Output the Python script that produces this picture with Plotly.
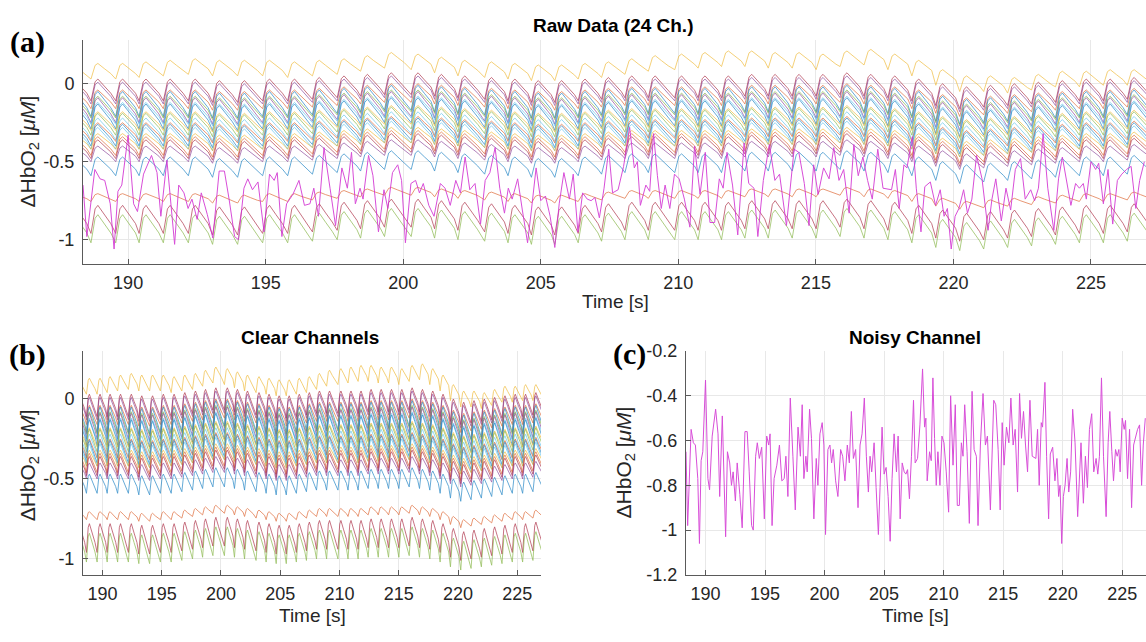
import plotly.graph_objects as go

# ---------------- data ----------------
# Cardiac beat peak times [s] (shared by the clear channels)
beat_times = [187.98, 188.85, 189.75, 190.60, 191.48, 192.39, 193.27, 194.18, 195.09, 196.00,
              196.90, 197.80, 198.65, 199.52, 200.49, 201.34, 202.19, 203.16, 204.01, 204.86,
              205.71, 206.56, 207.41, 208.26, 209.11, 210.07, 210.92, 211.77, 212.62, 213.47,
              214.34, 215.21, 216.08, 216.95, 217.82, 218.69, 219.56, 220.43, 221.30, 222.17,
              223.04, 223.91, 224.78, 225.65, 226.52]
# slow drift of the channel bundle at each beat
trend_main = [0.00, 0.00, 0.00, 0.00, 0.00, 0.00, -0.01, -0.01, 0.00, 0.00,
              0.01, 0.02, 0.03, 0.04, 0.04, 0.03, 0.02, 0.01, 0.00, -0.01,
              -0.01, 0.00, 0.01, 0.02, 0.02, 0.02, 0.02, 0.02, 0.03, 0.03,
              0.03, 0.03, 0.04, 0.03, 0.02, 0.00, -0.03, -0.05, -0.04, -0.03,
              -0.02, -0.01, 0.00, 0.00, 0.01]
# the top (yellow) channel level at each beat
trend_top = [0.07, 0.08, 0.08, 0.09, 0.10, 0.11, 0.10, 0.10, 0.10, 0.09,
             0.10, 0.11, 0.13, 0.15, 0.14, 0.12, 0.10, 0.09, 0.08, 0.07,
             0.07, 0.08, 0.09, 0.11, 0.13, 0.14, 0.15, 0.16, 0.16, 0.15,
             0.15, 0.14, 0.16, 0.17, 0.14, 0.10, 0.04, 0.00, 0.00, -0.01,
             0.01, 0.03, 0.03, 0.04, 0.04]
# one-beat pulse shape: time from peak [s] and relative level
pulse_phase = [-0.20, -0.05, 0.05, 0.28, 0.52]
pulse_level = [-1.0, 0.75, 1.0, 0.35, -0.30]

# 23 clear channels: mean level, half amplitude, colour
ch_offset = [0.0, -0.04, -0.06, -0.10, -0.13, -0.15, -0.17, -0.19, -0.21, -0.24, -0.26, -0.29,
             -0.31, -0.33, -0.35, -0.37, -0.40, -0.42, -0.45, -0.53, -0.73, -0.87, -0.93]
ch_amp = [0.05, 0.07, 0.07, 0.06, 0.08, 0.07, 0.08, 0.07, 0.08, 0.06, 0.07, 0.07,
          0.06, 0.07, 0.07, 0.05, 0.06, 0.06, 0.05, 0.06, 0.025, 0.09, 0.09]
ch_color = ["#EDB120", "#A2142F", "#7E2F8E", "#D95319", "#0072BD", "#77AC30", "#7E2F8E",
            "#4DBEEE", "#0072BD", "#EDB120", "#77AC30", "#4DBEEE", "#D95319", "#0072BD",
            "#4DBEEE", "#EDB120", "#D95319", "#A2142F", "#7E2F8E", "#0072BD", "#D95319",
            "#A2142F", "#77AC30"]
ch_uses_top = [True] + [False] * 22

# noisy channel
noisy_t = [188.36, 188.50, 188.79, 188.98, 189.15, 189.35, 189.49, 189.63, 189.77, 190.00,
           190.20, 190.34, 190.56, 190.85, 191.05, 191.19, 191.41, 191.69, 191.84, 192.03,
           192.18, 192.32, 192.51, 192.66, 192.88, 193.08, 193.31, 193.50, 193.67, 193.87,
           194.01, 194.21, 194.35, 194.52, 194.72, 194.94, 195.14, 195.31, 195.42, 195.59,
           195.76, 195.99, 196.21, 196.41, 196.61, 196.75, 196.92, 197.12, 197.34, 197.54,
           197.77, 197.97,
           198.12, 198.26, 198.43, 198.54, 198.74, 198.90, 199.10, 199.30, 199.44, 199.61,
           199.80, 199.94, 200.08, 200.28, 200.45, 200.59, 200.73, 200.93, 201.12, 201.35,
           201.52, 201.71, 201.91, 202.08, 202.25, 202.42, 202.61, 202.81, 202.98, 203.15,
           203.34, 203.51, 203.68, 203.82, 203.96, 204.16, 204.33, 204.52, 204.66, 204.83,
           205.00, 205.17, 205.34, 205.51, 205.67, 205.84, 206.04, 206.18, 206.35, 206.52,
           206.69, 206.83, 206.97, 207.13, 207.30, 207.47, 207.61, 207.81, 208.01,
           208.23, 208.40, 208.51, 208.62, 208.82, 208.96, 209.10, 209.24, 209.38, 209.52,
           209.69, 209.86, 210.03, 210.22, 210.42, 210.59, 210.79, 210.98, 211.15, 211.32,
           211.49, 211.63, 211.77, 211.97, 212.16, 212.39, 212.56, 212.75, 212.89, 213.09,
           213.31, 213.51, 213.68, 213.93, 214.21, 214.38, 214.58, 214.75, 214.92, 215.08,
           215.28, 215.48, 215.65, 215.84, 216.01, 216.21, 216.38, 216.54, 216.71, 216.88,
           217.05, 217.25, 217.44,
           217.75, 217.89, 218.03, 218.20, 218.31, 218.51, 218.65, 218.82, 218.96, 219.16,
           219.35, 219.52, 219.66, 219.78, 219.92, 220.06, 220.20, 220.37, 220.51, 220.67,
           220.84, 221.04, 221.26, 221.40, 221.54, 221.74, 221.91, 222.08, 222.25, 222.44,
           222.61, 222.81, 222.95, 223.09, 223.26, 223.43, 223.65, 223.82, 223.96, 224.13,
           224.27, 224.44, 224.58, 224.72, 224.83, 225.00, 225.17, 225.28, 225.45, 225.62,
           225.79, 225.96, 226.12, 226.29, 226.46, 226.63, 226.77, 226.94]
noisy_v = [-0.65, -0.98, -0.55, -0.61, -0.62, -0.77, -1.06, -0.69, -0.65, -0.33,
           -0.77, -0.82, -0.58, -0.46, -0.57, -0.85, -0.49, -1.03, -0.65, -0.70,
           -0.80, -0.74, -0.87, -0.70, -0.84, -0.99, -0.56, -0.56, -0.74, -0.98,
           -1.00, -0.67, -0.61, -0.68, -0.63, -0.95, -0.58, -0.62, -0.57, -0.98,
           -0.77, -0.71, -0.62, -0.78, -0.77, -0.67, -0.85, -0.41, -0.67, -0.91,
           -0.54, -0.67,
           -0.44, -0.77, -0.67, -0.74, -0.46, -0.59, -0.95, -0.68, -0.80, -0.57,
           -0.52, -0.62, -1.02, -0.64, -0.62, -0.70, -0.64, -0.78, -0.85, -0.64,
           -0.67, -0.78, -0.62, -0.70, -0.47, -0.68, -0.64, -0.90, -0.62, -0.57,
           -0.41, -0.67, -0.83, -0.67, -0.74, -0.61, -0.81, -1.02, -0.81, -0.54,
           -0.75, -0.72, -0.85, -1.05, -0.77, -0.57, -0.74, -0.58, -0.95, -0.70,
           -0.74, -0.75, -0.73, -0.86, -0.67, -0.42, -0.70, -0.68, -0.53,
           -0.28, -0.54, -0.50, -0.78, -0.65, -0.69, -0.32, -0.59, -0.80, -0.65,
           -0.80, -0.58, -0.61, -0.74, -0.92, -0.40, -0.71, -0.44, -0.89, -0.89,
           -0.61, -0.67, -0.44, -0.65, -0.97, -0.38, -0.64, -0.67, -0.98, -0.62,
           -0.39, -0.62, -0.58, -0.91, -0.42, -0.44, -0.64, -0.91, -0.52, -0.71,
           -0.54, -0.61, -0.41, -0.62, -0.55, -0.83, -0.39, -0.59, -0.47, -0.62,
           -0.74, -0.42, -0.67,
           -0.68, -0.55, -0.80, -0.52, -0.54, -0.34, -0.67, -0.95, -0.66, -0.63,
           -0.78, -0.68, -0.85, -0.80, -1.06, -0.85, -0.80, -0.68, -0.83, -0.74,
           -0.46, -0.61, -0.94, -0.74, -0.61, -0.88, -0.67, -0.81, -0.55, -0.48,
           -0.74, -0.68, -0.75, -0.67, -0.32, -0.67, -0.94, -0.61, -0.47, -0.65,
           -0.78, -0.64, -0.67, -0.64, -0.74, -0.50, -0.55, -0.51, -0.77, -0.55,
           -0.90, -0.62, -0.58, -0.55, -0.53, -0.80, -0.62, -0.50]

x_ticks = [190, 195, 200, 205, 210, 215, 220, 225]
y_ticks_ab = [-1, -0.5, 0]
y_ticktext_ab = ["-1", "-0.5", "0"]
y_ticks_c = [-1.2, -1.0, -0.8, -0.6, -0.4, -0.2]
y_ticktext_c = ["-1.2", "-1", "-0.8", "-0.6", "-0.4", "-0.2"]


def channel_series(i):
    xs, ys = [], []
    for k, tp in enumerate(beat_times):
        base = trend_top[k] if ch_uses_top[i] else ch_offset[i] + trend_main[k]
        for ph, lv in zip(pulse_phase, pulse_level):
            xs.append(tp + ph)
            ys.append(base + ch_amp[i] * lv)
    return xs, ys


fig = go.Figure()
for xa, ya in (("x", "y"), ("x2", "y2")):
    for i in range(len(ch_offset)):
        xs, ys = channel_series(i)
        fig.add_trace(go.Scatter(x=xs, y=ys, mode="lines", xaxis=xa, yaxis=ya,
                                 line=dict(color=ch_color[i], width=0.8), opacity=0.75,
                                 showlegend=False, hoverinfo="skip"))
    if xa == "x":
        fig.add_trace(go.Scatter(x=noisy_t, y=noisy_v, mode="lines", xaxis=xa, yaxis=ya,
                                 line=dict(color="#D22FD2", width=1.0), opacity=0.85,
                                 showlegend=False, hoverinfo="skip"))
fig.add_trace(go.Scatter(x=noisy_t, y=noisy_v, mode="lines", xaxis="x3", yaxis="y3",
                         line=dict(color="#D22FD2", width=1.0), opacity=0.85,
                         showlegend=False, hoverinfo="skip"))

W, H = 1146, 642
tickfont = dict(family="Liberation Sans, Arial", size=18, color="#262626")


def xax(d0, d1, anchor):
    return dict(domain=[d0 / W, d1 / W], range=[188.36, 227.0], tickvals=x_ticks,
                ticktext=[str(v) for v in x_ticks], anchor=anchor,
                showgrid=True, gridcolor="#E8E8E8", gridwidth=1, zeroline=False,
                showline=True, linecolor="#5A5A5A", linewidth=1,
                ticks="inside", ticklen=5, tickcolor="#5A5A5A",
                tickfont=tickfont, ticklabelstandoff=3)


def yax(top, bottom, rng, tv, tt, anchor):
    return dict(domain=[1 - bottom / H, 1 - top / H], range=rng, tickvals=tv, ticktext=tt,
                anchor=anchor, showgrid=True, gridcolor="#E8E8E8", gridwidth=1,
                zeroline=False, showline=True, linecolor="#5A5A5A", linewidth=1,
                ticks="inside", ticklen=5, tickcolor="#5A5A5A",
                tickfont=tickfont, ticklabelstandoff=4)


fig.update_layout(
    width=W, height=H, margin=dict(l=0, r=0, t=0, b=0),
    paper_bgcolor="white", plot_bgcolor="white", showlegend=False,
    xaxis=xax(83, 1146, "y"),
    yaxis=yax(31, 262, [-1.155, 0.28], y_ticks_ab, y_ticktext_ab, "x"),
    xaxis2=xax(83, 541, "y2"),
    yaxis2=yax(352, 583, [-1.10, 0.30], y_ticks_ab, y_ticktext_ab, "x2"),
    xaxis3=xax(686, 1146, "y3"),
    yaxis3=yax(352, 583, [-1.2, -0.2], y_ticks_c, y_ticktext_c, "x3"),
)

anns = []


def ann(text, x, y, size, family="Liberation Sans, Arial", angle=0, color="#262626"):
    anns.append(dict(text=text, x=x / W, y=1 - y / H, xref="paper", yref="paper",
                     showarrow=False, xanchor="center", yanchor="middle", textangle=angle,
                     font=dict(family=family, size=size, color=color)))


ylab = "ΔHbO<sub>2</sub> [<i>μM</i>]"
ann("<b>Raw Data (24 Ch.)</b>", 613, 16, 19, color="#000000")
ann("<b>Clear Channels</b>", 310, 338, 19, color="#000000")
ann("<b>Noisy Channel</b>", 915, 338, 19, color="#000000")
ann("Time [s]", 615, 301, 19)
ann("Time [s]", 312, 625, 19)
ann("Time [s]", 915, 625, 19)
ann(ylab, 29, 146, 21, angle=-90)
ann(ylab, 29, 470, 21, angle=-90)
ann(ylab, 625, 467, 21, angle=-90)
ann("<b>(a)</b>", 27, 33, 30, family="Liberation Serif, Times New Roman", color="#000000")
ann("<b>(b)</b>", 27, 356, 30, family="Liberation Serif, Times New Roman", color="#000000")
ann("<b>(c)</b>", 629, 355, 30, family="Liberation Serif, Times New Roman", color="#000000")
fig.update_layout(annotations=anns)

fig.write_html("out.html")
